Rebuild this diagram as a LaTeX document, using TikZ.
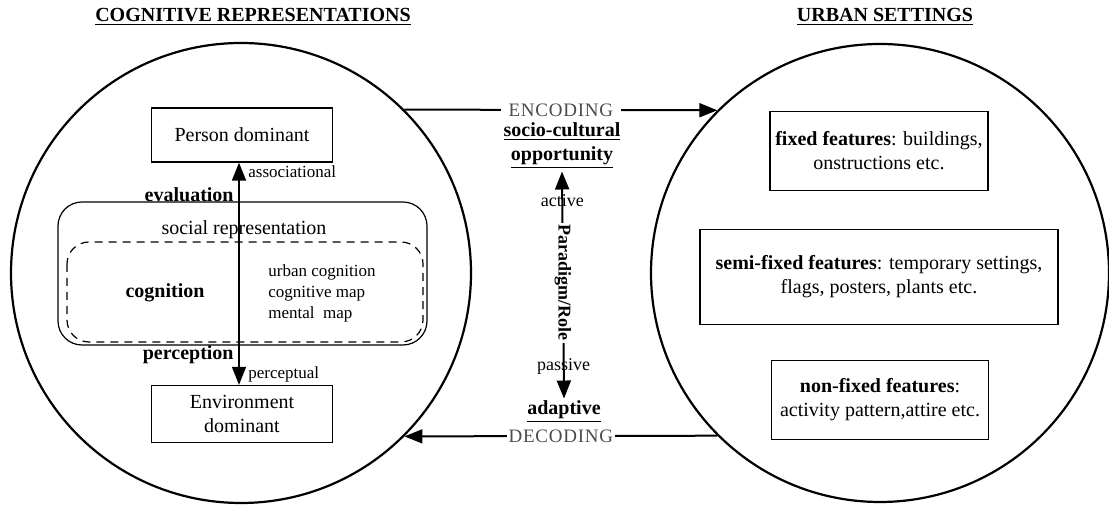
\documentclass[tikz,border=0pt]{standalone}
\usepackage{fontspec}
\setmainfont{Liberation Serif}
\usetikzlibrary{arrows.meta}
\colorlet{Cgray}{black!70}
\tikzset{
box/.style={draw, line width=.6pt, align=center, inner sep=0pt},
small/.style={font=\fontsize{8.5}{10.5}\selectfont, inner sep=1pt},
codeword/.style={fill=white, text=Cgray, font=\fontsize{9.5}{11}\selectfont\addfontfeature{LetterSpace=4}},
}
\newcommand{\featurebox}[5]{
\node[box, minimum width=#3, minimum height=#4] (#1) at (#2) {#5};
}

\begin{document}
\begin{tikzpicture}[x=.5pt, y=-.5pt, >={Triangle[length=9pt, width=7pt]}]
\useasboundingbox (0,0) rectangle (1109,506);
\node[font=\bfseries] (cogtitle) at (253,17) {\underline{COGNITIVE REPRESENTATIONS}};
\node[font=\bfseries] (urbtitle) at (885,17) {\underline{URBAN SETTINGS}};
\node[circle, draw, line width=1.1pt, minimum size=230pt, inner sep=0pt] (cog) at (241,273) {};
\node[circle, draw, line width=1.1pt, minimum size=229pt, inner sep=0pt] (urb) at (880,273) {};

\draw[rounded corners=12pt, line width=.6pt] (58,202) rectangle (427,345);
\draw[rounded corners=11pt, line width=.6pt, dash pattern=on 4pt off 3pt] (67,242) rectangle (423,342);
\node[box, minimum width=90.5pt, minimum height=27pt] (person) at (242,135) {Person dominant};
\node[box, minimum width=90.5pt, minimum height=28.5pt] (env) at (242,414) {Environment\\dominant};
\draw[<->, line width=.7pt] ([xshift=-1.5pt]person.south) -- ([xshift=-1.5pt]env.north);
\node[small, anchor=west] (assoc) at (246,172) {associational};
\node[font=\bfseries, anchor=east, inner sep=1pt] (eval) at (236,195) {evaluation};
\node (social) at (244,230) {social representation};
\node[font=\bfseries] (cogn) at (165,293) {cognition};
\node[small, anchor=west, align=left] (maps) at (266,293) {urban cognition\\cognitive map\\mental\ \ map};
\node[font=\bfseries, anchor=east, inner sep=1pt] (perc) at (236,355) {perception};
\node[small, anchor=west] (percl) at (246,374) {perceptual};

\draw[->, line width=1pt] (cog.45) -- node[codeword, inner sep=4pt] (enc) {ENCODING} (urb.135);
\draw[->, line width=1pt] (urb.-135) -- node[codeword, inner sep=1pt] (dec) {DECODING} (cog.-45);
\node[font=\bfseries, align=center, inner sep=1pt] (socio) at (562,146) {\underline{socio-cultural}\\\underline{opportunity}};
\node[font=\bfseries, inner sep=1pt] (adapt) at (564,412) {\underline{adaptive}};
\draw[<->, line width=1pt] (socio.south) -- node[pos=.13, font=\small] (act) {active}
node[pos=.49, fill=white, rotate=-90, font=\small\bfseries, inner sep=1pt] (role) {Paradigm/Role}
node[pos=.86, font=\small] (pas) {passive} (adapt.north);

\featurebox{fixed}{879,151}{109pt}{39.5pt}{\textbf{fixed features}: buildings,\\onstructions etc.}
\featurebox{semi}{879,277}{179pt}{47.5pt}{\textbf{semi-fixed features}: temporary settings,\\flags, posters, plants etc.}
\featurebox{nonfixed}{880,400}{108.5pt}{39.5pt}{\textbf{non-fixed features}:\\activity pattern,attire etc.}
\end{tikzpicture}
\end{document}
